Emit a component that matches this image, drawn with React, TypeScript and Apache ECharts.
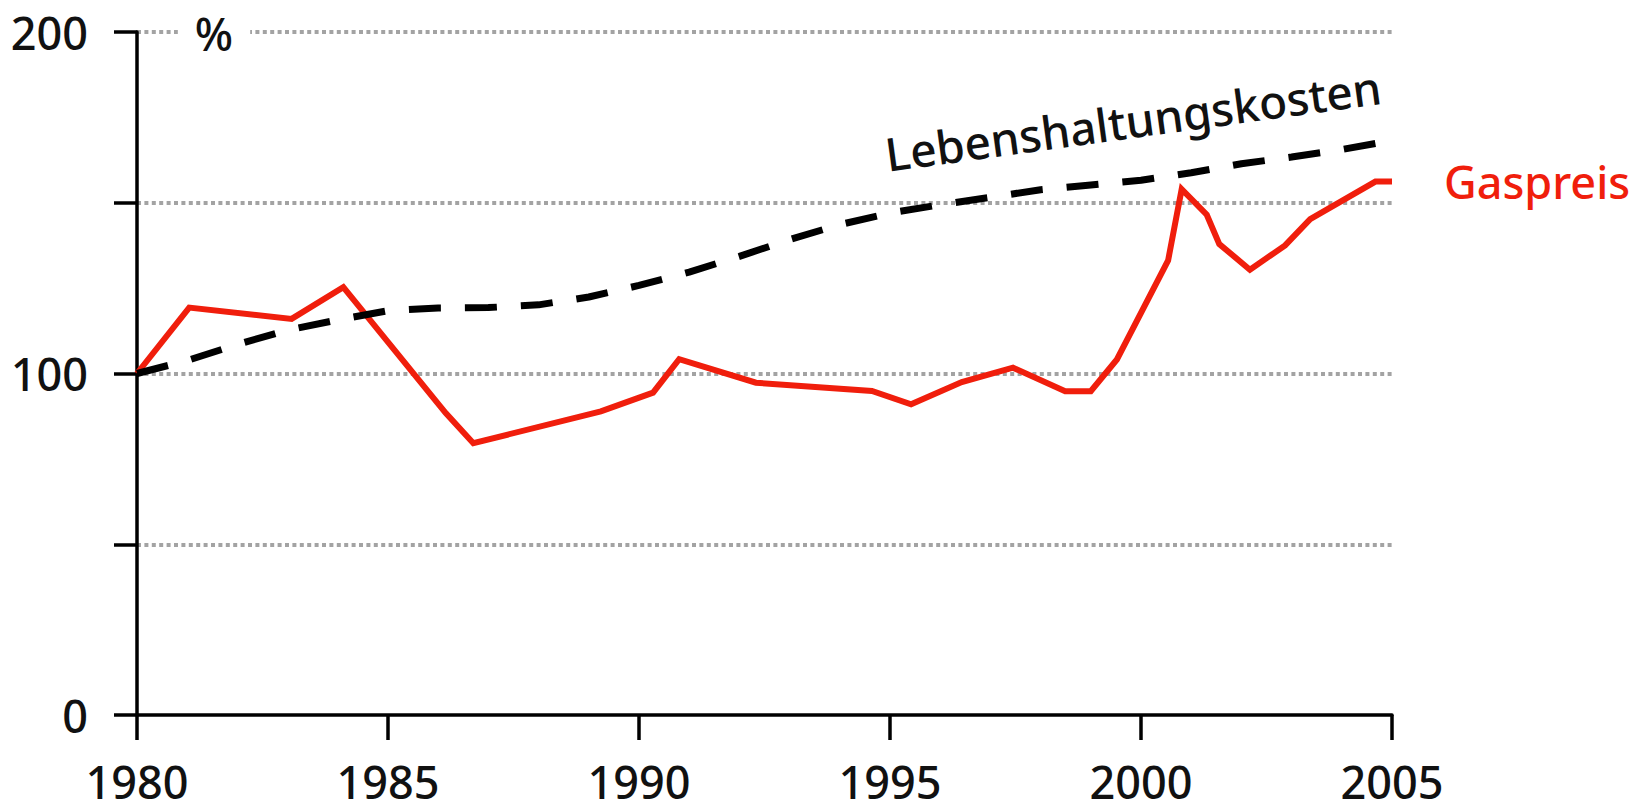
import React, { useEffect, useRef } from 'react';
import * as echarts from 'echarts';

const gasYears = [1980, 1981.04, 1983.08, 1984.11, 1986.15, 1986.7, 1989.24, 1990.28, 1990.8, 1992.33, 1994.64, 1995.42, 1996.43, 1997.45, 1998.49, 1999.0, 1999.52, 2000.54, 2000.81, 2001.31, 2001.56, 2002.17, 2002.87, 2003.37, 2004.67, 2005];
const gasValues = [100, 119.3, 116, 125.3, 88.4, 79.6, 88.9, 94.4, 104.2, 97.3, 94.9, 91, 97.5, 101.7, 94.8, 94.8, 104.1, 133.1, 154.0, 146.5, 137.9, 130.4, 137.5, 145.2, 156.2, 156.2];

const costYears = [1980, 1981, 1982, 1983, 1984, 1985, 1986, 1987, 1988, 1989, 1990, 1991, 1992, 1993, 1994, 1995, 1996, 1997, 1998, 1999, 2000, 2001, 2002, 2003, 2004, 2005];
const costValues = [100, 103.8, 108.5, 112.7, 115.7, 118.4, 119.2, 119.3, 120.1, 122.4, 125.8, 129.7, 134.3, 139.2, 143.6, 147.0, 149.4, 151.6, 153.8, 155.2, 156.6, 158.8, 161.4, 163.4, 165.6, 168.2];

const yLabelled = [0, 100, 200];
const gasLabel = 'Gaspreis';
const costLabel = 'Lebenshaltungskosten';
const unitLabel = '%';

const FONT = "'Noto Sans', 'Open Sans', sans-serif";
const WEIGHT = 500;
const RED = '#f01e0c';
const INK = '#111111';

export default function App() {
  const ref = useRef<HTMLDivElement>(null);
  useEffect(() => {
    document.body.style.margin = '0';
    if (!ref.current) return;
    const chart = echarts.init(ref.current, null, { renderer: 'svg' });
    const gasData = gasYears.map((y, i) => [y, gasValues[i]]);
    const costData = costYears.map((y, i) => [y, costValues[i]]);
    chart.setOption({
      animation: false,
      backgroundColor: '#ffffff',
      textStyle: { fontFamily: FONT },
      grid: { left: 137, right: 247, top: 32, bottom: 91, containLabel: false },
      xAxis: {
        type: 'value',
        min: 1980,
        max: 2005,
        interval: 5,
        axisLine: { show: true, lineStyle: { color: '#000', width: 3.5 } },
        axisTick: { show: true, length: 25, lineStyle: { color: '#000', width: 3.5 } },
        axisLabel: {
          color: INK,
          fontSize: 45,
          fontWeight: WEIGHT,
          fontFamily: FONT,
          margin: 46,
          lineHeight: 40,
          formatter: (v: number) => String(v),
        },
        splitLine: { show: false },
      },
      yAxis: {
        type: 'value',
        min: 0,
        max: 200,
        interval: 50,
        axisLine: { show: true, lineStyle: { color: '#000', width: 3.5 } },
        axisTick: { show: true, length: 23, lineStyle: { color: '#000', width: 3.5 } },
        axisLabel: {
          color: INK,
          fontSize: 45,
          fontWeight: WEIGHT,
          fontFamily: FONT,
          margin: 49,
          formatter: (v: number) => (yLabelled.includes(v) ? String(v) : ''),
        },
        splitLine: {
          show: true,
          showMinLine: false,
          lineStyle: { color: '#a3a3a3', width: 4, type: [4, 3.4] },
        },
      },
      series: [
        {
          type: 'line',
          name: gasLabel,
          data: gasData,
          showSymbol: false,
          symbol: 'none',
          lineStyle: { color: RED, width: 6, join: 'miter' },
          endLabel: {
            show: true,
            formatter: gasLabel,
            color: RED,
            fontSize: 45,
            fontWeight: WEIGHT,
            fontFamily: FONT,
            distance: 52,
          },
          z: 2,
        },
        {
          type: 'line',
          name: costLabel,
          data: costData,
          showSymbol: false,
          symbol: 'none',
          smooth: false,
          lineStyle: { color: '#000', width: 7, type: [32, 24], cap: 'butt' },
          z: 3,
        },
      ],
      graphic: [
        {
          type: 'text',
          x: 214,
          y: 33,
          z: 10,
          style: {
            text: unitLabel,
            fontSize: 45,
            fontWeight: WEIGHT,
            fontFamily: FONT,
            fill: INK,
            align: 'center',
            verticalAlign: 'middle',
            backgroundColor: '#ffffff',
            padding: [2, 17],
          },
        },
        {
          type: 'text',
          x: 1133,
          y: 120,
          rotation: (7.8 * Math.PI) / 180,
          z: 10,
          style: {
            text: costLabel,
            fontSize: 46,
            fontWeight: WEIGHT,
            fontFamily: FONT,
            fill: INK,
            align: 'center',
            verticalAlign: 'middle',
          },
        },
      ],
    });
    return () => chart.dispose();
  }, []);
  return <div ref={ref} style={{ width: 1639, height: 806 }} />;
}
